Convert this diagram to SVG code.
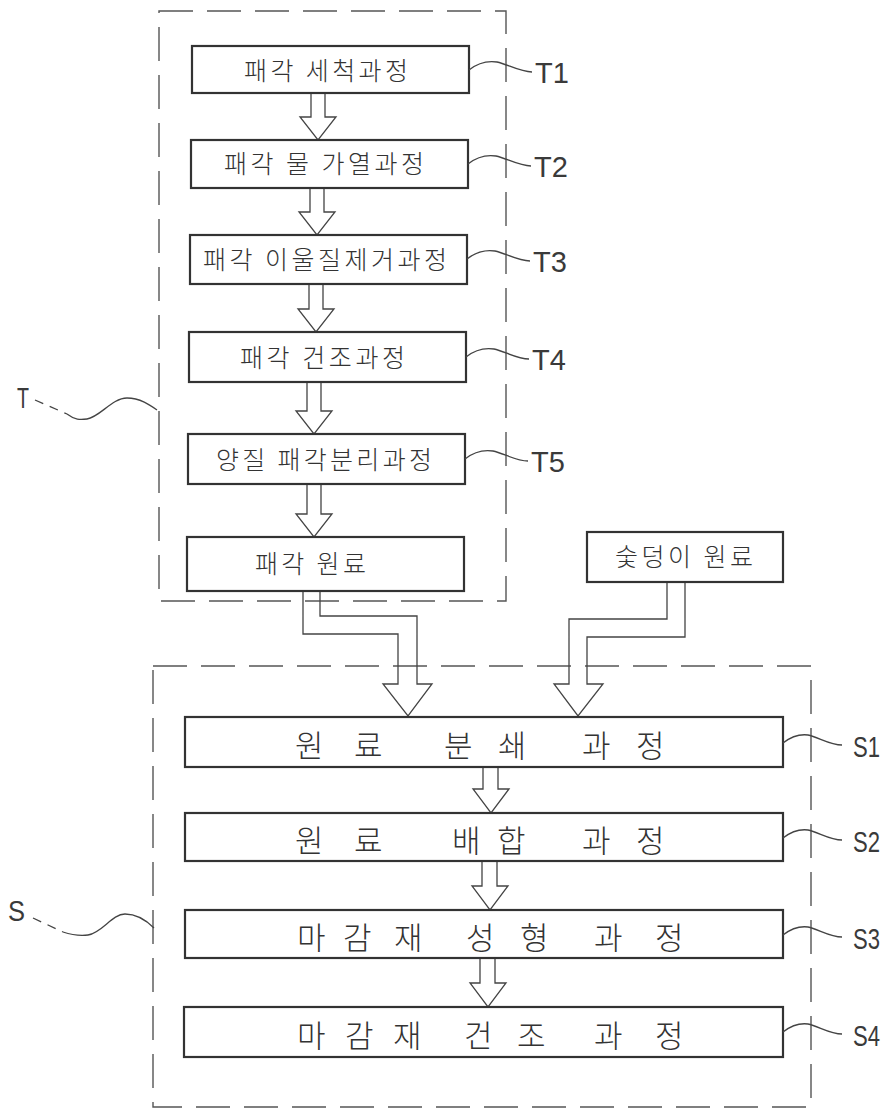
<svg xmlns="http://www.w3.org/2000/svg" width="892" height="1111" viewBox="0 0 892 1111">
<style>
.bg{fill:#ffffff}
.box{fill:#ffffff;stroke:#333;stroke-width:2.2}
.dash{fill:none;stroke:#555;stroke-width:1.4;stroke-dasharray:34 14}
.arr{fill:none;stroke:#444;stroke-width:1.3;stroke-linejoin:miter}
.lead{fill:none;stroke:#444;stroke-width:1.3}
.leaddash{fill:none;stroke:#444;stroke-width:1.3;stroke-dasharray:9 7}
.tt{font-family:"Noto Sans CJK KR","Noto Sans",sans-serif;font-weight:300;font-size:25px;fill:#333}
.st{font-family:"Noto Sans CJK KR","Noto Sans",sans-serif;font-weight:300;font-size:31px;fill:#333}
.lbl{font-family:"Liberation Sans","DejaVu Sans",sans-serif;font-size:29px;fill:#3a3a3a}
</style>
<rect class="bg" x="0" y="0" width="892" height="1111"/>

<!-- dashed group boxes -->
<g id="groupT">
<rect class="dash" x="159" y="11" width="347" height="590"/>
<path class="leaddash" d="M35,400 L67,414"/>
<path class="lead" d="M67,414 C75,420 80,420 87,419 C100,417 112,398 127,398 C140,398 150,405 157,410"/>
<text class="lbl" x="17" y="408" font-size="34" textLength="12" lengthAdjust="spacingAndGlyphs">T</text>
</g>
<g id="groupS">
<rect class="dash" x="153" y="666" width="658" height="441"/>
<path class="leaddash" d="M33,918 L63,932"/>
<path class="lead" d="M63,932 C72,935 80,936 88,935 C102,933 112,914 125,914 C138,914 148,922 154,928"/>
<text class="lbl" x="8" y="921" font-size="33" textLength="17" lengthAdjust="spacingAndGlyphs">S</text>
</g>

<!-- connectors -->
<g id="connectors">
<path class="arr" d="M311,93 V117 H300 L318,140 L336,117 H325 V93"/>
<path class="arr" d="M310,188 V212 H299 L317,235 L335,212 H324 V188"/>
<path class="arr" d="M309,284 V309 H298 L316,332 L334,309 H323 V284"/>
<path class="arr" d="M307,382 V411 H296 L314,434 L332,411 H321 V382"/>
<path class="arr" d="M307,484 V514 H296 L314,537 L332,514 H321 V484"/>
<path class="arr" d="M303,591 V634 H398 V684 H383 L408,716 L432,684 H417 V616 H320 V591"/>
<path class="arr" d="M685,582 V637 H587 V684 H603 L578,716 L554,684 H569 V619 H667 V582"/>
<path class="arr" d="M483,767 V789 H473 L491,813 L509,789 H498 V767"/>
<path class="arr" d="M482,861 V886 H472 L490,910 L508,886 H497 V861"/>
<path class="arr" d="M480,958 V983 H470 L488,1007 L506,983 H495 V958"/>
</g>

<!-- T nodes -->
<g id="T1">
<rect class="box" x="192" y="46" width="277" height="47"/>
<text class="tt" x="244" y="80" textLength="164" lengthAdjust="spacing">패각 세척과정</text>
<path class="lead" d="M469,70 C479,62 490,61 497,62 C507,64 520,72 532,72"/>
<text class="lbl" x="535" y="83">T1</text>
</g>
<g id="T2">
<rect class="box" x="191" y="140" width="277" height="48"/>
<text class="tt" x="224" y="173" textLength="200" lengthAdjust="spacing">패각 물 가열과정</text>
<path class="lead" d="M468,164 C478,156 489,155 496,156 C506,158 519,166 531,166"/>
<text class="lbl" x="534" y="177">T2</text>
</g>
<g id="T3">
<rect class="box" x="190" y="235" width="277" height="49"/>
<text class="tt" x="203" y="269" textLength="244" lengthAdjust="spacing">패각 이울질제거과정</text>
<path class="lead" d="M467,259 C477,251 488,250 495,251 C505,253 518,261 530,261"/>
<text class="lbl" x="533" y="272">T3</text>
</g>
<g id="T4">
<rect class="box" x="189" y="332" width="277" height="50"/>
<text class="tt" x="240" y="367" textLength="165" lengthAdjust="spacing">패각 건조과정</text>
<path class="lead" d="M466,357 C476,349 487,348 494,349 C504,351 517,359 529,359"/>
<text class="lbl" x="532" y="370">T4</text>
</g>
<g id="T5">
<rect class="box" x="188" y="434" width="277" height="50"/>
<text class="tt" x="216" y="469" textLength="216" lengthAdjust="spacing">양질 패각분리과정</text>
<path class="lead" d="M465,459 C475,451 486,450 493,451 C503,453 516,461 528,461"/>
<text class="lbl" x="531" y="472">T5</text>
</g>
<g id="shellRaw">
<rect class="box" x="187" y="537" width="277" height="54"/>
<text class="tt" x="255" y="573" textLength="111" lengthAdjust="spacing">패각 원료</text>
</g>
<g id="charcoalRaw">
<rect class="box" x="587" y="532" width="196" height="50"/>
<text class="tt" x="615" y="566" textLength="138" lengthAdjust="spacing">숯덩이 원료</text>
</g>

<!-- S nodes -->
<g id="S1">
<rect class="box" x="185" y="717" width="598" height="50"/>
<text class="st" x="295 330 354 400 444 480 498 540 582 615 636" y="757">원 료 분 쇄 과 정</text>
<path class="lead" d="M783,743 C792,736 800,734 808,735 C818,737 830,745 842,745"/>
<text class="lbl" x="853" y="757" font-size="32" textLength="27" lengthAdjust="spacingAndGlyphs">S1</text>
</g>
<g id="S2">
<rect class="box" x="185" y="813" width="598" height="48"/>
<text class="st" x="295 330 354 400 452 480 497 540 582 615 636" y="852">원 료 배 합 과 정</text>
<path class="lead" d="M783,838 C792,831 800,829 808,830 C818,832 830,840 842,840"/>
<text class="lbl" x="853" y="852" font-size="32" textLength="27" lengthAdjust="spacingAndGlyphs">S2</text>
</g>
<g id="S3">
<rect class="box" x="185" y="910" width="598" height="48"/>
<text class="st" x="297 330 343 380 394 430 466 500 520 560 594 630 655" y="949">마 감 재 성 형 과 정</text>
<path class="lead" d="M783,935 C792,928 800,926 808,927 C818,929 830,937 842,937"/>
<text class="lbl" x="853" y="949" font-size="32" textLength="27" lengthAdjust="spacingAndGlyphs">S3</text>
</g>
<g id="S4">
<rect class="box" x="184" y="1007" width="599" height="50"/>
<text class="st" x="297 330 345 380 393 430 464 500 517 560 594 630 655" y="1047">마 감 재 건 조 과 정</text>
<path class="lead" d="M783,1032 C792,1025 800,1023 808,1024 C818,1026 830,1034 842,1034"/>
<text class="lbl" x="853" y="1046" font-size="32" textLength="27" lengthAdjust="spacingAndGlyphs">S4</text>
</g>
</svg>
